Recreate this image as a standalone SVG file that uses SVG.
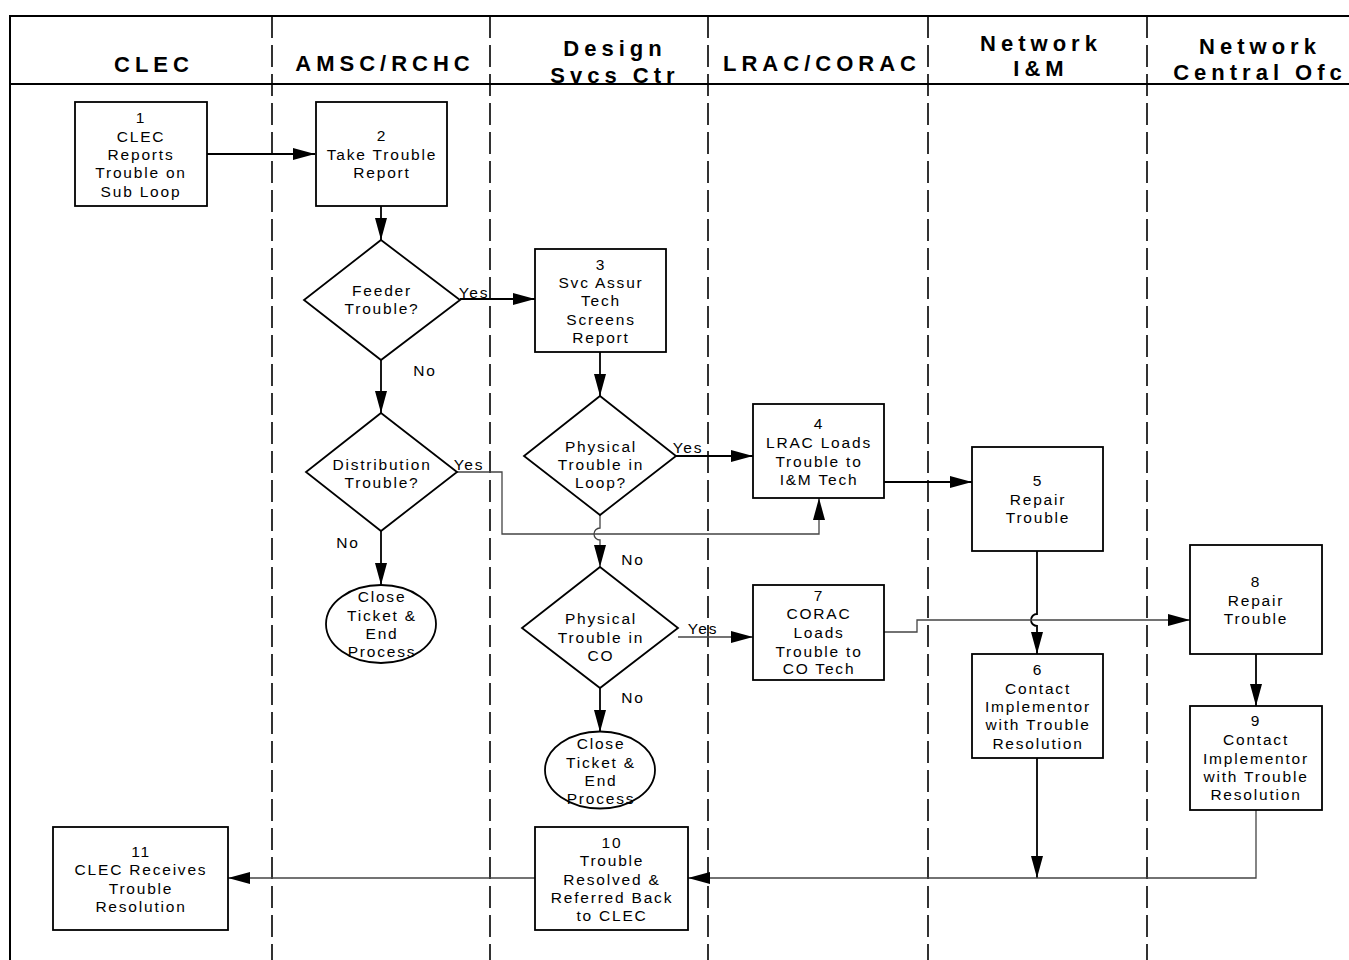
<svg xmlns="http://www.w3.org/2000/svg" width="1349" height="960" viewBox="0 0 1349 960">
<defs>
<marker id="ah" markerUnits="userSpaceOnUse" markerWidth="22" markerHeight="12" refX="22" refY="6" orient="auto"><path d="M0,0 L22,6 L0,12 z" fill="#000"/></marker>
<style>
.frame{stroke:#000;stroke-width:2;fill:none}
.lane{stroke:#000;stroke-width:1.6;stroke-dasharray:22 7;fill:none}
.hd{font-family:"Liberation Sans",Arial,sans-serif;font-weight:bold;font-size:22px;letter-spacing:5px;text-anchor:middle;fill:#000}
.box{fill:#fff;stroke:#000;stroke-width:1.8}
.t{font-family:"Liberation Sans",Arial,sans-serif;font-size:15.5px;letter-spacing:1.8px;text-anchor:middle;fill:#000}
.c{stroke:#000;stroke-width:1.8;fill:none}
.g{stroke:#444;stroke-width:1.3;fill:none}
</style>
</defs>
<rect width="1349" height="960" fill="#fff"/>
<g id="frame">
<path class="frame" d="M10,960 V16 H1349 M10,84 H1349"/>
<path class="lane" d="M272,16 V960 M490,16 V960 M708,16 V960 M928,16 V960 M1147,16 V960"/>
<text class="hd" x="154" y="72">CLEC</text>
<text class="hd" x="385" y="71">AMSC/RCHC</text>
<text class="hd" x="615" y="56">Design</text>
<text class="hd" x="615" y="83">Svcs Ctr</text>
<text class="hd" x="822" y="71">LRAC/CORAC</text>
<text class="hd" x="1041" y="51">Network</text>
<text class="hd" x="1041" y="76">I&amp;M</text>
<text class="hd" x="1260" y="54">Network</text>
<text class="hd" x="1260" y="80">Central Ofc</text>
</g>
<g id="connectors">
<path class="c" d="M207,154 H315" marker-end="url(#ah)"/>
<path class="c" d="M381,206 V240" marker-end="url(#ah)"/>
<path class="c" d="M460,299 H535" marker-end="url(#ah)"/>
<path class="c" d="M381,360 V413" marker-end="url(#ah)"/>
<path class="c" d="M381,531 V585" marker-end="url(#ah)"/>
<path class="g" d="M457,472 H502 V534 H819 V498" marker-end="url(#ah)"/>
<path class="c" d="M600,352 V396" marker-end="url(#ah)"/>
<path class="c" d="M676,456 H753" marker-end="url(#ah)"/>
<path class="g" d="M600,515 V528 A6,6 0 0 0 600,540 V567" marker-end="url(#ah)"/>
<path class="g" d="M678,637 H753" marker-end="url(#ah)"/>
<path class="c" d="M600,688 V732" marker-end="url(#ah)"/>
<path class="c" d="M884,482 H972" marker-end="url(#ah)"/>
<path class="c" d="M1037,551 V614 A6,6 0 0 0 1037,626 V654" marker-end="url(#ah)"/>
<path class="g" d="M884,632 H917 V620 H1190" marker-end="url(#ah)"/>
<path class="c" d="M1037,758 V878" marker-end="url(#ah)"/>
<path class="c" d="M1256,654 V706" marker-end="url(#ah)"/>
<path class="g" d="M1256,810 V878 H688" marker-end="url(#ah)"/>
<path class="g" d="M535,878 H228" marker-end="url(#ah)"/>
<text class="t" x="474" y="298">Yes</text>
<text class="t" x="425" y="376">No</text>
<text class="t" x="469" y="470">Yes</text>
<text class="t" x="348" y="548">No</text>
<text class="t" x="688" y="453">Yes</text>
<text class="t" x="633" y="565">No</text>
<text class="t" x="703" y="634">Yes</text>
<text class="t" x="633" y="703">No</text>
</g>
<g id="n1"><rect class="box" x="75" y="102" width="132" height="104"/>
<text class="t" x="141" y="123">1</text><text class="t" x="141" y="142">CLEC</text><text class="t" x="141" y="160">Reports</text><text class="t" x="141" y="178">Trouble on</text><text class="t" x="141" y="197">Sub Loop</text></g>
<g id="n2"><rect class="box" x="316" y="102" width="131" height="104"/>
<text class="t" x="382" y="141">2</text><text class="t" x="382" y="160">Take Trouble</text><text class="t" x="382" y="178">Report</text></g>
<g id="d1"><polygon class="box" points="381,240 460,300 381,360 304,300"/>
<text class="t" x="382" y="296">Feeder</text><text class="t" x="382" y="314">Trouble?</text></g>
<g id="d2"><polygon class="box" points="381,413 457,472 381,531 306,472"/>
<text class="t" x="382" y="470">Distribution</text><text class="t" x="382" y="488">Trouble?</text></g>
<g id="e1"><ellipse class="box" cx="381" cy="624" rx="55" ry="39"/>
<text class="t" x="382" y="602">Close</text><text class="t" x="382" y="621">Ticket &amp;</text><text class="t" x="382" y="639">End</text><text class="t" x="382" y="657">Process</text></g>
<g id="n3"><rect class="box" x="535" y="249" width="131" height="103"/>
<text class="t" x="601" y="270">3</text><text class="t" x="601" y="288">Svc Assur</text><text class="t" x="601" y="306">Tech</text><text class="t" x="601" y="325">Screens</text><text class="t" x="601" y="343">Report</text></g>
<g id="d3"><polygon class="box" points="600,396 676,456 600,515 524,456"/>
<text class="t" x="601" y="452">Physical</text><text class="t" x="601" y="470">Trouble in</text><text class="t" x="601" y="488">Loop?</text></g>
<g id="d4"><polygon class="box" points="600,567 678,628 600,688 522,628"/>
<text class="t" x="601" y="624">Physical</text><text class="t" x="601" y="643">Trouble in</text><text class="t" x="601" y="661">CO</text></g>
<g id="e2"><ellipse class="box" cx="600" cy="770" rx="55" ry="38.5"/>
<text class="t" x="601" y="749">Close</text><text class="t" x="601" y="768">Ticket &amp;</text><text class="t" x="601" y="786">End</text><text class="t" x="601" y="804">Process</text></g>
<g id="n4"><rect class="box" x="753" y="404" width="131" height="94"/>
<text class="t" x="819" y="429">4</text><text class="t" x="819" y="448">LRAC Loads</text><text class="t" x="819" y="467">Trouble to</text><text class="t" x="819" y="485">I&amp;M Tech</text></g>
<g id="n7"><rect class="box" x="753" y="585" width="131" height="95"/>
<text class="t" x="819" y="601">7</text><text class="t" x="819" y="619">CORAC</text><text class="t" x="819" y="638">Loads</text><text class="t" x="819" y="657">Trouble to</text><text class="t" x="819" y="674">CO Tech</text></g>
<g id="n5"><rect class="box" x="972" y="447" width="131" height="104"/>
<text class="t" x="1038" y="486">5</text><text class="t" x="1038" y="505">Repair</text><text class="t" x="1038" y="523">Trouble</text></g>
<g id="n6"><rect class="box" x="972" y="654" width="131" height="104"/>
<text class="t" x="1038" y="675">6</text><text class="t" x="1038" y="694">Contact</text><text class="t" x="1038" y="712">Implementor</text><text class="t" x="1038" y="730">with Trouble</text><text class="t" x="1038" y="749">Resolution</text></g>
<g id="n8"><rect class="box" x="1190" y="545" width="132" height="109"/>
<text class="t" x="1256" y="587">8</text><text class="t" x="1256" y="606">Repair</text><text class="t" x="1256" y="624">Trouble</text></g>
<g id="n9"><rect class="box" x="1190" y="706" width="132" height="104"/>
<text class="t" x="1256" y="726">9</text><text class="t" x="1256" y="745">Contact</text><text class="t" x="1256" y="764">Implementor</text><text class="t" x="1256" y="782">with Trouble</text><text class="t" x="1256" y="800">Resolution</text></g>
<g id="n10"><rect class="box" x="535" y="827" width="153" height="103"/>
<text class="t" x="612" y="848">10</text><text class="t" x="612" y="866">Trouble</text><text class="t" x="612" y="885">Resolved &amp;</text><text class="t" x="612" y="903">Referred Back</text><text class="t" x="612" y="921">to CLEC</text></g>
<g id="n11"><rect class="box" x="53" y="827" width="175" height="103"/>
<text class="t" x="141" y="857">11</text><text class="t" x="141" y="875">CLEC Receives</text><text class="t" x="141" y="894">Trouble</text><text class="t" x="141" y="912">Resolution</text></g>
</svg>
